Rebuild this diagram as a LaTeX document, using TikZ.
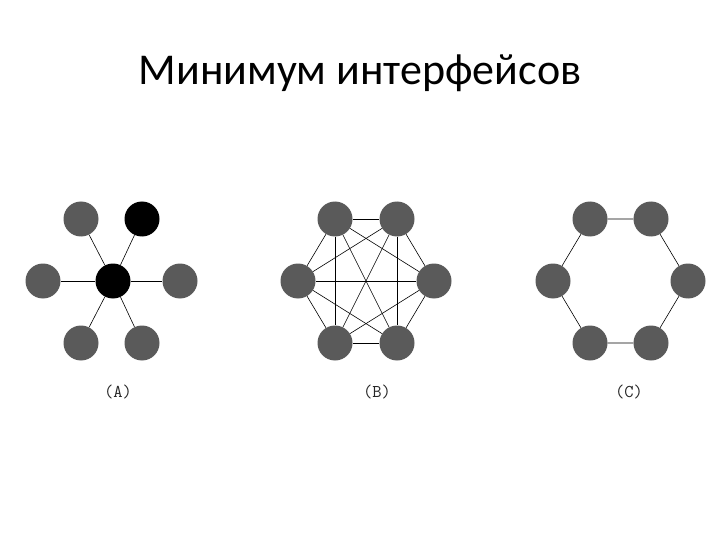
\documentclass[tikz,border=0pt]{standalone}
\usepackage{fontspec}
\setmainfont{Carlito}
\definecolor{hostgray}{RGB}{90,90,90}
\begin{document}
\begin{tikzpicture}[x=1pt,y=-1pt,
        host/.style={circle,fill=hostgray,minimum size=35pt,inner sep=0pt},
        hub/.style={host,fill=black},
        link/.style={line width=0.6pt},
        caption/.style={font=\ttfamily\fontsize{18}{20}\selectfont,text=black!85}]
    \useasboundingbox (0,0) rectangle (720,540);
    \node[anchor=base] (title) at (360,85) {\fontsize{44}{52}\selectfont Минимум интерфейсов};

    % (A) star
    \node[hub] (a0) at (113,281) {};
    \node[host] (a1) at (81,219) {};
    \node[hub] (a2) at (142,219) {};
    \node[host] (a3) at (43,281) {};
    \node[host] (a4) at (180,281) {};
    \node[host] (a5) at (81,343) {};
    \node[host] (a6) at (142,343) {};
    \foreach \i in {1,...,6}
        \draw[link] (a0) -- (a\i);
    \node[caption] (capa) at (118,392) {(A)};

    % (B) full mesh
    \node[host] (b1) at (335,219) {};
    \node[host] (b2) at (397,219) {};
    \node[host] (b3) at (434,281) {};
    \node[host] (b4) at (397,343) {};
    \node[host] (b5) at (335,343) {};
    \node[host] (b6) at (298,281) {};
    \foreach \i in {1,...,5} {
        \pgfmathtruncatemacro{\first}{\i+1}
        \foreach \j in {\first,...,6}
            \draw[link] (b\i) -- (b\j);
    }
    \node[caption] (capb) at (377,392) {(B)};

    % (C) ring
    \node[host] (c1) at (590,219) {};
    \node[host] (c2) at (651,219) {};
    \node[host] (c3) at (688,281) {};
    \node[host] (c4) at (651,343) {};
    \node[host] (c5) at (590,343) {};
    \node[host] (c6) at (553,281) {};
    \draw[link] (c1) -- (c2) -- (c3) -- (c4) -- (c5) -- (c6) -- (c1);
    \node[caption] (capc) at (629,392) {(C)};
\end{tikzpicture}
\end{document}
